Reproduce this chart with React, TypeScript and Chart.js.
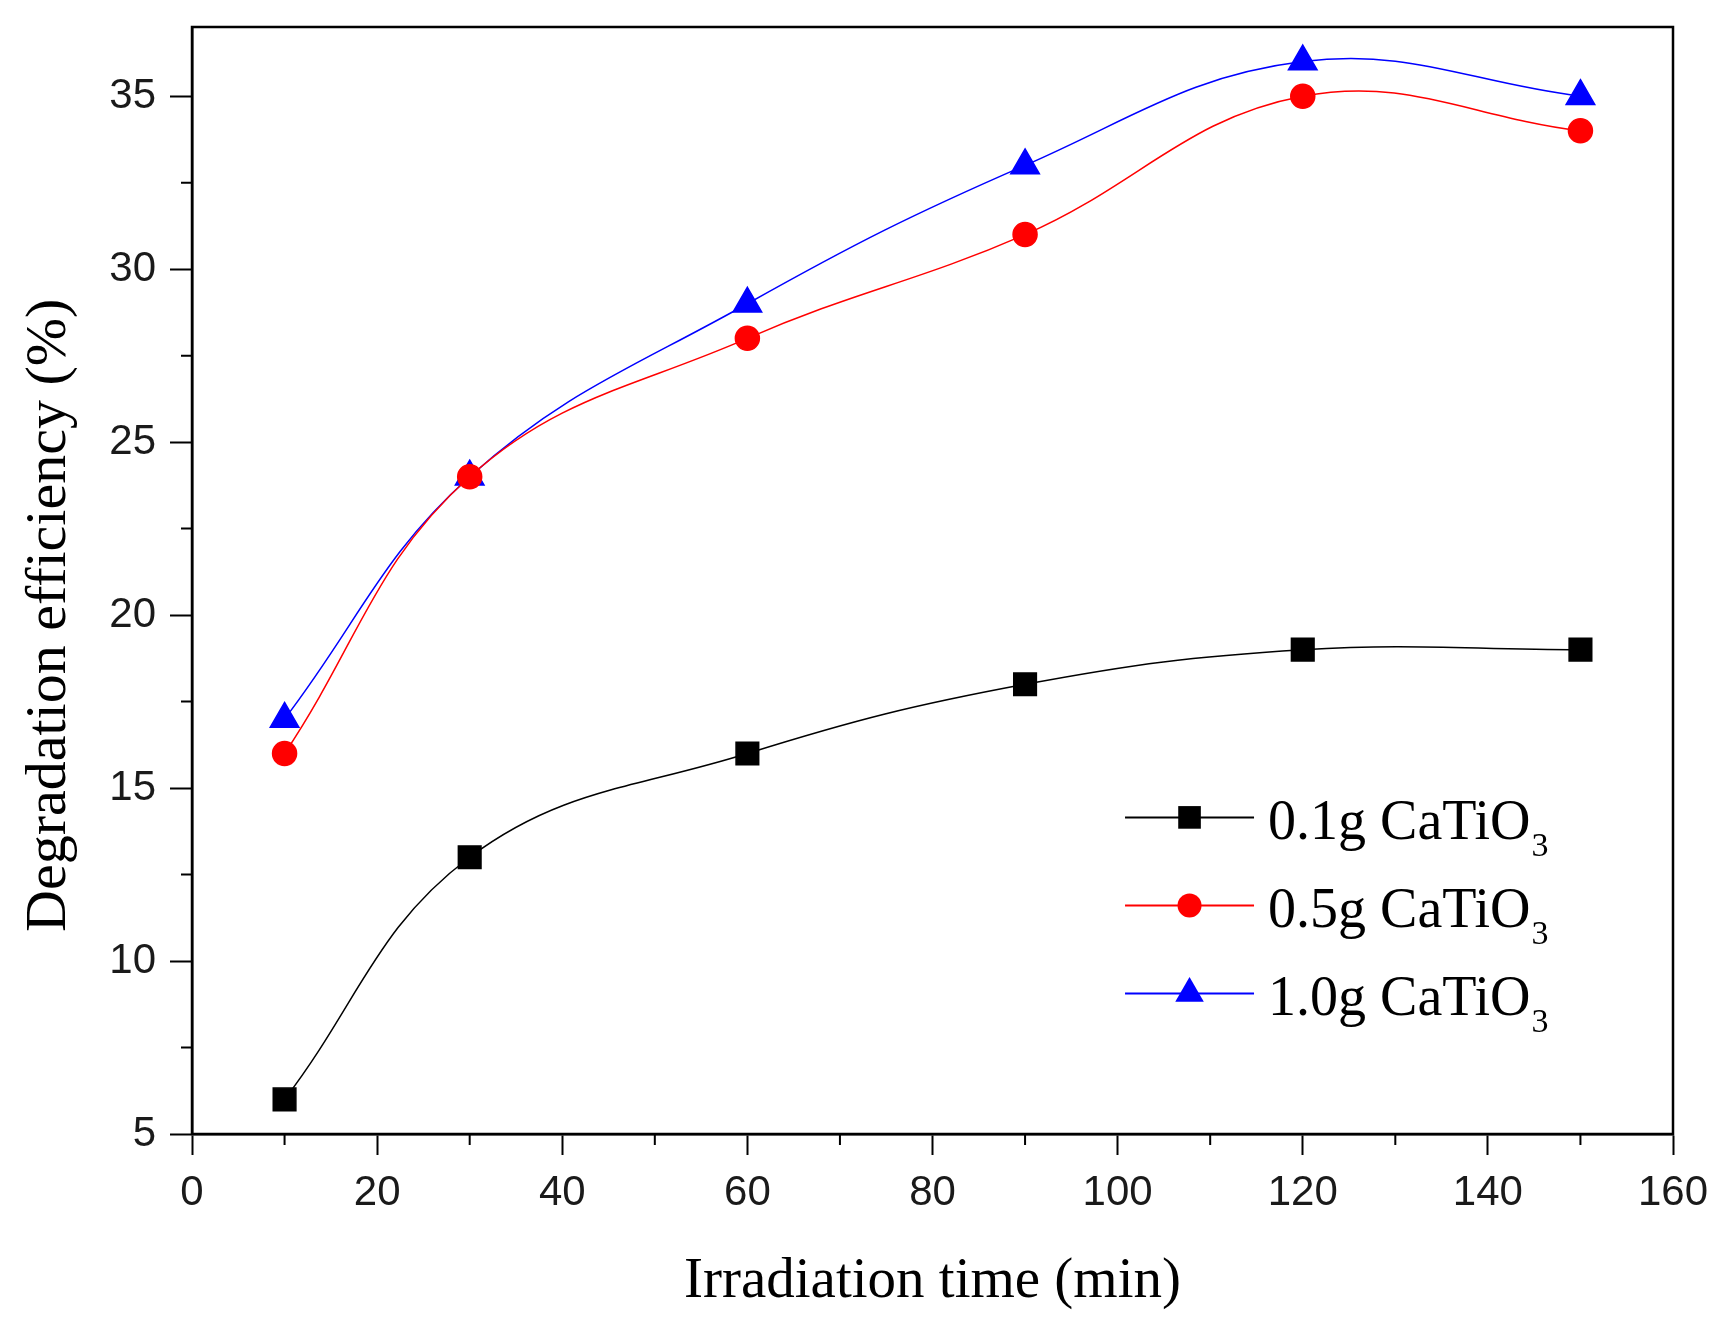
import React, { useEffect, useRef } from 'react';
import { Chart, registerables } from 'chart.js';

Chart.register(...registerables);

// irradiation time (min)
const times = [10, 30, 60, 90, 120, 150];
// degradation efficiency (%) per catalyst dose
const dose01 = [6, 13, 16, 18, 19, 19];
const dose05 = [16, 24, 28, 31, 35, 34];
const dose10 = [17, 24, 29, 33, 36, 35];
const seriesNames = ['0.1g CaTiO', '0.5g CaTiO', '1.0g CaTiO'];
const seriesSub = '3';

const xTicks = [0, 20, 40, 60, 80, 100, 120, 140, 160];
const xMinor = [10, 30, 50, 70, 90, 110, 130, 150];
const yTicks = [5, 10, 15, 20, 25, 30, 35];
const yMinor = [7.5, 12.5, 17.5, 22.5, 27.5, 32.5];

const W = 1735;
const H = 1336;

const framePlugin = {
  id: 'frame',
  afterDraw(chart: any) {
    const { ctx, chartArea: a, scales } = chart;
    ctx.save();
    ctx.strokeStyle = '#000';
    ctx.lineWidth = 2.5;
    ctx.strokeRect(a.left, a.top, a.right - a.left, a.bottom - a.top);

    // minor ticks
    ctx.lineWidth = 2;
    ctx.beginPath();
    xMinor.forEach((v) => {
      const px = scales.x.getPixelForValue(v);
      ctx.moveTo(px, a.bottom);
      ctx.lineTo(px, a.bottom + 11);
    });
    yMinor.forEach((v) => {
      const py = scales.y.getPixelForValue(v);
      ctx.moveTo(a.left - 11, py);
      ctx.lineTo(a.left, py);
    });
    ctx.stroke();

    // legend inside plot
    const w = a.right - a.left;
    const h = a.bottom - a.top;
    chart.data.datasets.forEach((ds: any, i: number) => {
      const y = a.top + (0.714 + i * 0.0795) * h;
      const x1 = a.left + 0.63 * w;
      const x2 = x1 + 129;
      const cx = (x1 + x2) / 2;
      ctx.strokeStyle = ds.borderColor;
      ctx.lineWidth = 2;
      ctx.beginPath();
      ctx.moveTo(x1, y);
      ctx.lineTo(x2, y);
      ctx.stroke();
      ctx.fillStyle = ds.backgroundColor;
      const r = ds.pointRadius;
      ctx.beginPath();
      if (ds.pointStyle === 'rect') {
        const s = Math.SQRT1_2 * r;
        ctx.rect(cx - s, y - s, 2 * s, 2 * s);
      } else if (ds.pointStyle === 'circle') {
        ctx.arc(cx, y, r, 0, Math.PI * 2);
      } else {
        ctx.moveTo(cx, y - r);
        ctx.lineTo(cx + 0.866 * r, y + 0.5 * r);
        ctx.lineTo(cx - 0.866 * r, y + 0.5 * r);
        ctx.closePath();
      }
      ctx.fill();

      ctx.fillStyle = '#000';
      ctx.textBaseline = 'alphabetic';
      ctx.font = '56px "Liberation Serif", "Times New Roman", serif';
      const tx = x2 + 14;
      const ty = y + 22;
      ctx.fillText(seriesNames[i], tx, ty);
      const tw = ctx.measureText(seriesNames[i]).width;
      ctx.font = '34px "Liberation Serif", "Times New Roman", serif';
      ctx.fillText(seriesSub, tx + tw + 1, ty + 17);
    });
    ctx.restore();
  },
};

const App: React.FC = () => {
  const chartRef = useRef<HTMLCanvasElement>(null);

  useEffect(() => {
    if (!chartRef.current) return;
    const context = chartRef.current.getContext('2d');
    if (!context) return;

    const tickFont = { family: '"Liberation Sans", Arial, sans-serif', size: 42 };
    const titleFont = { family: '"Liberation Serif", "Times New Roman", serif', size: 57 };

    const chart = new Chart(context, {
      type: 'line',
      data: {
        datasets: [
          {
            label: seriesNames[0] + seriesSub,
            data: times.map((t, i) => ({ x: t, y: dose01[i] })),
            borderColor: '#000000',
            backgroundColor: '#000000',
            pointStyle: 'rect',
            pointRadius: 16,
            borderWidth: 1.5,
            tension: 0.4,
          },
          {
            label: seriesNames[1] + seriesSub,
            data: times.map((t, i) => ({ x: t, y: dose05[i] })),
            borderColor: '#ff0000',
            backgroundColor: '#ff0000',
            pointStyle: 'circle',
            pointRadius: 12,
            borderWidth: 1.5,
            tension: 0.4,
          },
          {
            label: seriesNames[2] + seriesSub,
            data: times.map((t, i) => ({ x: t, y: dose10[i] })),
            borderColor: '#0000ff',
            backgroundColor: '#0000ff',
            pointStyle: 'triangle',
            pointRadius: 16.5,
            borderWidth: 1.5,
            tension: 0.4,
          },
        ],
      },
      options: {
        responsive: false,
        animation: false,
        layout: { padding: { top: 27, right: 62, bottom: 10, left: 10 } },
        plugins: {
          legend: { display: false },
          tooltip: { enabled: false },
        },
        elements: { point: { borderWidth: 0 } },
        scales: {
          x: {
            type: 'linear',
            min: 0,
            max: 160,
            afterFit: (scale: any) => {
              scale.height = H - 1134 - 10;
              scale.paddingLeft = 0;
              scale.paddingRight = 0;
            },
            afterBuildTicks: (scale: any) => {
              scale.ticks = xTicks.map((v) => ({ value: v }));
            },
            ticks: { font: tickFont, color: '#1a1a1a', padding: 13, maxRotation: 0 },
            grid: {
              drawOnChartArea: false,
              drawTicks: true,
              tickLength: 21,
              tickWidth: 2,
              tickColor: '#000',
            },
            border: { display: true, color: '#000', width: 2.5 },
            title: {
              display: true,
              text: 'Irradiation time (min)',
              font: titleFont,
              color: '#000',
              padding: { top: 0, bottom: 10 },
            },
          },
          y: {
            type: 'linear',
            min: 5,
            max: 37,
            afterFit: (scale: any) => {
              scale.width = 192 - 10;
              scale.paddingTop = 0;
              scale.paddingBottom = 0;
            },
            afterBuildTicks: (scale: any) => {
              scale.ticks = yTicks.map((v) => ({ value: v }));
            },
            ticks: { font: tickFont, color: '#1a1a1a', padding: 14 },
            grid: {
              drawOnChartArea: false,
              drawTicks: true,
              tickLength: 22,
              tickWidth: 2,
              tickColor: '#000',
            },
            border: { display: true, color: '#000', width: 2.5 },
            title: {
              display: true,
              // trailing spaces push the title slightly below the axis centre, as in the source
              text: 'Degradation efficiency (%)    \u2009',
              font: { ...titleFont, size: 58 },
              color: '#000',
              padding: { top: 5, bottom: 0 },
            },
          },
        },
      },
      plugins: [framePlugin],
    });

    return () => {
      chart.destroy();
    };
  }, []);

  return (
    <div style={{ position: 'absolute', left: 0, top: 0, width: W, height: H, background: '#fff' }}>
      <canvas ref={chartRef} width={W} height={H} />
    </div>
  );
};

export default App;
